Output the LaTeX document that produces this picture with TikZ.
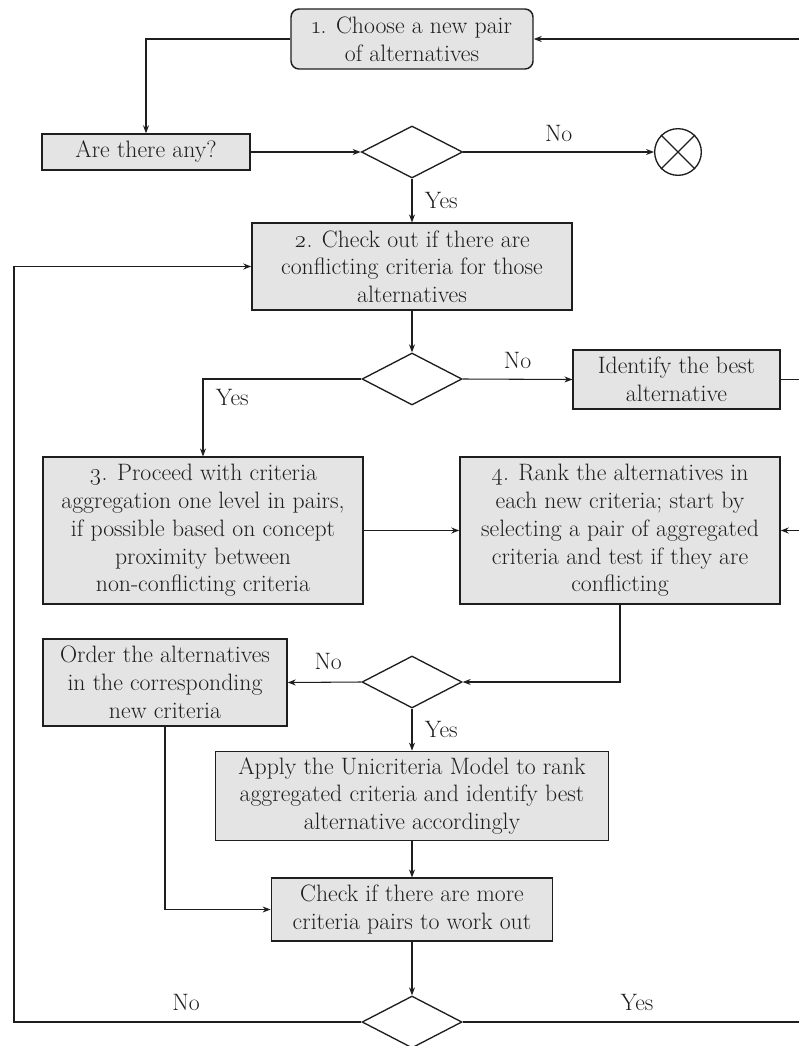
\documentclass[tikz,border=0pt]{standalone}
\usepackage{fontspec}
\setmainfont{Latin Modern Roman}[Numbers=OldStyle]
\usetikzlibrary{shapes.geometric,arrows.meta}
\definecolor{boxfill}{HTML}{E4E4E4}
\definecolor{ink}{HTML}{1E1E1E}
\tikzset{
  stepbox/.style={draw=ink, line width=1.1pt, fill=boxfill, align=center,
    inner sep=0pt, font=\fontsize{17.8}{20.8}\selectfont, text=ink},
  decision/.style={diamond, draw=ink, line width=1pt, fill=white, inner sep=0pt,
    minimum width=#1, minimum height=39pt, aspect=1.9},
  conn/.style={draw=ink, line width=0.8pt},
  arr/.style={conn, -{Stealth[length=6pt,width=4.5pt]}},
  lbl/.style={text=ink, font=\fontsize{17.8}{20.8}\selectfont},
  endmark/.style={circle, draw=ink, line width=1pt, minimum size=35pt, inner sep=0pt}
}
\begin{document}
\begin{tikzpicture}[x=0.75pt,y=-0.75pt]
\useasboundingbox (0,0) rectangle (799,1046);
% nodes
\node[stepbox, rounded corners=6pt, minimum width=181.5pt, minimum height=45pt] (s1) at (412,39) {1. Choose a new pair\\of alternatives};
\node[stepbox, minimum width=156pt, minimum height=27pt] (any) at (146,152) {Are there any?};
\node[decision=76pt] (d1) at (412,152) {};
\node[endmark] (end) at (678,152) {};
\draw[ink, line width=1pt] (end.north west) -- (end.south east) (end.north east) -- (end.south west);
\node[stepbox, minimum width=240pt, minimum height=65pt] (s2) at (412,266.5) {2. Check out if there are\\conflicting criteria for those\\alternatives};
\node[decision=75pt] (d2) at (412,379) {};
\node[stepbox, minimum width=155pt, minimum height=44pt] (best) at (676.5,379.5) {Identify the best\\alternative};
\node[stepbox, minimum width=240pt, minimum height=110pt] (s3) at (203,530.5) {3. Proceed with criteria\\aggregation one level in pairs,\\if possible based on concept\\proximity between\\non-conflicting criteria};
\node[stepbox, minimum width=240pt, minimum height=110pt] (s4) at (620,530.5) {4. Rank the alternatives in\\each new criteria; start by\\selecting a pair of aggregated\\criteria and test if they are\\conflicting};
\node[decision=75pt] (d3) at (412,682) {};
\node[stepbox, minimum width=183pt, minimum height=65pt] (order) at (165,682.5) {Order the alternatives\\in the corresponding\\new criteria};
\node[stepbox, minimum width=295pt, minimum height=67pt] (apply) at (412,796) {Apply the Unicriteria Model to rank\\aggregated criteria and identify best\\alternative accordingly};
\node[stepbox, minimum width=211pt, minimum height=47pt] (check) at (412,909.5) {Check if there are more\\criteria pairs to work out};
\node[decision=75pt] (d4) at (412,1022) {};
% free ends
\coordinate (rtop) at (799,39);
\coordinate (rbest) at (799,379.5);
\coordinate (rs4) at (799,530.5);
\coordinate (rbot) at (799,1022);
\coordinate (lbot) at (14,1022);
\coordinate (ltop) at (14,266.5);
% connectors
\draw[arr, line width=1.1pt] (rtop) -- (s1.east);
\draw[arr] (s1.west) -| (any.north);
\draw[arr, line width=1.1pt] (any.east) -- (d1.west);
\draw[arr] (d1.east) -- node[lbl, above=4pt, pos=0.5] {No} (end.west);
\draw[arr] (d1.south) -- node[lbl, right=6pt, pos=0.5] {Yes} (s2.north);
\draw[arr] (s2.south) -- (d2.north);
\draw[arr] (d2.east) -- node[lbl, above=4pt, pos=0.5] {No} (best.west);
\draw[conn] (best.east) -- (rbest);
\draw[arr] (d2.west) -| node[lbl, pos=0.62, right=6pt] {Yes} (s3.north);
\draw[arr] (s3.east) -- (s4.west);
\draw[arr] (rs4) -- (s4.east);
\draw[arr] (s4.south) |- (d3.east);
\draw[arr] (d3.west) -- node[lbl, above=6pt, pos=0.45] {No} (order.east);
\draw[arr] (d3.south) -- node[lbl, right=6pt, pos=0.5] {Yes} (apply.north);
\draw[arr] (apply.south) -- (check.north);
\draw[arr] (order.south) |- (check.west);
\draw[arr] (check.south) -- (d4.north);
\draw[arr] (d4.west) -- (lbot) -- (ltop) -- (s2.west);
\draw[conn] (d4.east) -- (rbot);
\node[lbl] (no4) at (186,1002) {No};
\node[lbl] (yes4) at (637,1002) {Yes};
\end{tikzpicture}
\end{document}
